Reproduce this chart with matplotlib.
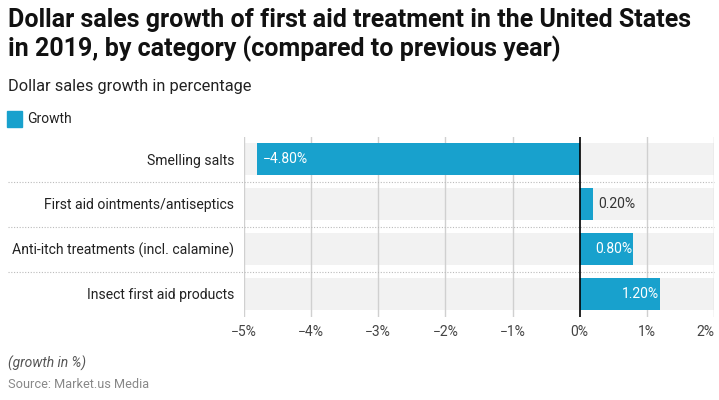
import matplotlib.pyplot as plt
import numpy as np

plt.rcParams['font.family'] = ['Roboto', 'DejaVu Sans']

categories = ['Smelling salts', 'First aid ointments/antiseptics',
              'Anti-itch treatments (incl. calamine)', 'Insect first aid products']
growth = [-4.8, 0.2, 0.8, 1.2]
ticks = [-5, -4, -3, -2, -1, 0, 1, 2]
tick_labels = ['\u22125%', '\u22124%', '\u22123%', '\u22122%', '\u22121%', '0%', '1%', '2%']

bar_color = '#18a1cd'
W, H = 719, 400

fig = plt.figure(figsize=(W / 100, H / 100), dpi=100)
left, right, top, bottom = 244, 714, 136.5, 316.5
ax = fig.add_axes([left / W, 1 - bottom / H, (right - left) / W, (bottom - top) / H])

y = np.arange(len(categories))
bh = 0.71
# gray row backgrounds
ax.barh(y, [7] * len(y), left=-5, height=bh, color='#f2f2f2', zorder=0)
for t in ticks:
    if t != 0:
        ax.axvline(t, color='#d0d0d0', lw=1, zorder=1)
ax.barh(y, growth, height=bh, color=bar_color, zorder=2)
ax.axvline(0, color='black', lw=1.2, zorder=3)

for i, v in enumerate(growth):
    txt = f'{v:.2f}%'.replace('-', '\u2212')
    if v < 0:
        ax.text(v + 0.08, i, txt, color='white', va='center', ha='left', fontsize=10, zorder=4)
    elif v < 0.5:
        ax.text(v + 0.08, i, txt, color='#333333', va='center', ha='left', fontsize=10, zorder=4)
    else:
        ax.text(v - 0.02, i, txt, color='white', va='center', ha='right', fontsize=10, zorder=4)

# dotted separators between rows
for b in [0.5, 1.5, 2.5]:
    ax.plot([(8 - left) / (right - left), 1], [b, b], transform=ax.get_yaxis_transform(),
            color='#bbbbbb', lw=0.8, ls=(0, (1, 1.5)), clip_on=False)

ax.set_xlim(-5, 2)
ax.set_ylim(3.5, -0.5)
ax.set_xticks(ticks)
ax.set_xticklabels(tick_labels, fontsize=10, color='#444444')
ax.get_xticklabels()[-1].set_ha('right')
ax.set_yticks(y)
ax.set_yticklabels(categories, fontsize=10.1, color='#222222')
ax.tick_params(length=0, pad=6)
ax.tick_params(axis='y', pad=7)
for s in ax.spines.values():
    s.set_visible(False)

fig.text(8 / W, 1 - 20 / H, 'Dollar sales growth of first aid treatment in the United States',
         fontsize=18, fontweight='bold', va='center', color='#111111')
fig.text(8 / W, 1 - 49 / H, 'in 2019, by category (compared to previous year)',
         fontsize=18, fontweight='bold', va='center', color='#111111')
fig.text(8 / W, 1 - 87 / H, 'Dollar sales growth in percentage', fontsize=11.8, va='center', color='#222222')
fig.patches.append(plt.Rectangle((7 / W, 1 - 127 / H), 15 / W, 16 / H, color=bar_color,
                                 transform=fig.transFigure))
fig.text(27 / W, 1 - 119 / H, 'Growth', fontsize=10, va='center', color='#222222')
fig.text(8 / W, 1 - 363 / H, '(growth in %)', fontsize=10, style='italic', va='center', color='#555555')
fig.text(8 / W, 1 - 384 / H, 'Source: Market.us Media', fontsize=9.2, va='center', color='#888888')

fig.savefig('out.png', dpi=100)
